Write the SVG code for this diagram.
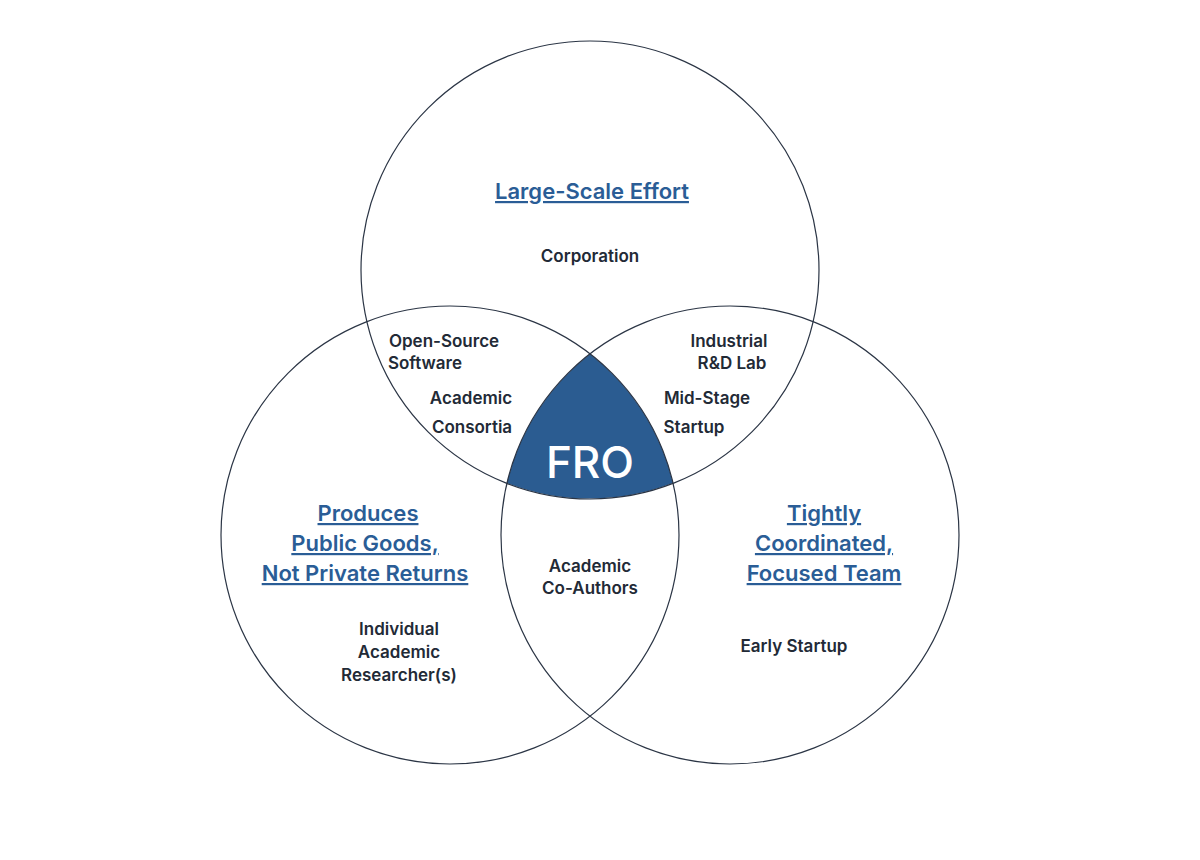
<svg xmlns="http://www.w3.org/2000/svg" width="1200" height="860" viewBox="0 0 1200 860">
<style>
.c{fill:none;stroke:#2b3545;stroke-width:1.2}
.t{font-family:Inter,"Liberation Sans",sans-serif;font-weight:600;font-size:17px;fill:#222a36;text-anchor:middle}
.h{font-family:Inter,"Liberation Sans",sans-serif;font-weight:600;font-size:22px;fill:#2a5d96;text-anchor:middle;text-decoration:underline}
</style>
<rect width="1200" height="860" fill="#fff"/>
<g id="fro"><path d="M590 354 A229 229 0 0 0 507 483 A229 229 0 0 0 673 483 A229 229 0 0 0 590 354 Z" fill="#2b5c91"/>
<text x="590" y="478" font-family="Inter,'Liberation Sans',sans-serif" font-size="44" font-weight="500" fill="#fff" text-anchor="middle">FRO</text></g>
<g id="top"><circle class="c" cx="590" cy="270" r="229"/>
<text class="h" x="592" y="199">Large-Scale Effort</text>
<text class="t" x="590" y="262">Corporation</text></g>
<g id="left"><circle class="c" cx="450" cy="535" r="229"/>
<text class="h" x="368" y="521">Produces</text>
<text class="h" x="365" y="551">Public Goods,</text>
<text class="h" x="365" y="581">Not Private Returns</text>
<text class="t" x="399" y="635">Individual</text>
<text class="t" x="399" y="658">Academic</text>
<text class="t" x="399" y="681">Researcher(s)</text></g>
<g id="right"><circle class="c" cx="730" cy="535" r="229"/>
<text class="h" x="824" y="521">Tightly</text>
<text class="h" x="824" y="551">Coordinated,</text>
<text class="h" x="824" y="581">Focused Team</text>
<text class="t" x="794" y="652">Early Startup</text></g>
<g id="overlaps">
<text class="t" x="444" y="347">Open-Source</text>
<text class="t" x="425" y="369">Software</text>
<text class="t" x="471" y="404">Academic</text>
<text class="t" x="472" y="433">Consortia</text>
<text class="t" x="729" y="347">Industrial</text>
<text class="t" x="732" y="369">R&amp;D Lab</text>
<text class="t" x="707" y="404">Mid-Stage</text>
<text class="t" x="694" y="433">Startup</text>
<text class="t" x="590" y="572">Academic</text>
<text class="t" x="590" y="594">Co-Authors</text></g>
<g id="connectors"/>
</svg>
